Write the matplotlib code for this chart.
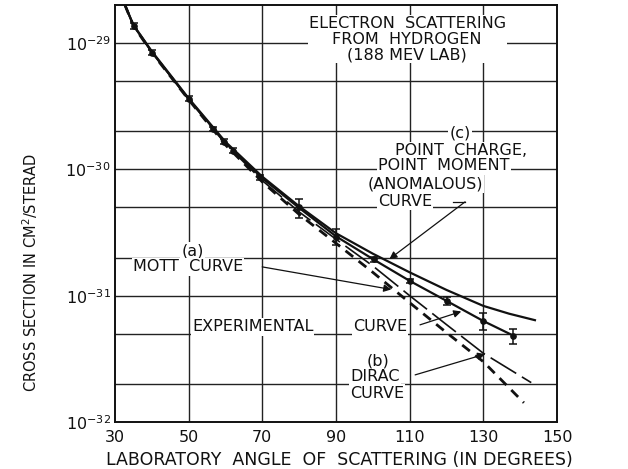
import matplotlib
matplotlib.use("Agg")
import matplotlib.pyplot as plt
import numpy as np

# measured points (lab angle in degrees, cross section in cm^2/sterad)
point_angle = [35.2, 40, 50, 56.6, 59.6, 62, 69.5, 80, 90, 100.3, 110, 120, 129.8, 138]
point_sigma = [1.36e-29, 8.4e-30, 3.63e-30, 2.09e-30, 1.66e-30, 1.41e-30, 8.65e-31,
               5.0e-31, 2.94e-31, 1.94e-31, 1.31e-31, 9.1e-32, 6.3e-32, 4.8e-32]
point_err = [0.05, 0.04, 0.05, 0.04, 0.04, 0.04, 0.05, 0.17, 0.14, 0.04, 0.04, 0.07, 0.15, 0.13]

# curves
exp_angle = [32.7, 35, 40, 50, 60, 70, 80, 90, 100, 110, 120, 130, 138]
exp_sigma = [2.0e-29, 1.38e-29, 8.5e-30, 3.6e-30, 1.62e-30, 8.5e-31, 4.95e-31,
             2.95e-31, 1.95e-31, 1.31e-31, 9.1e-32, 6.3e-32, 4.85e-32]

anom_angle = [32.7, 35, 40, 50, 60, 70, 80, 90, 100, 110, 120, 130, 137, 144]
anom_sigma = [2.0e-29, 1.39e-29, 8.6e-30, 3.65e-30, 1.65e-30, 8.75e-31, 5.1e-31,
              3.12e-31, 2.15e-31, 1.53e-31, 1.11e-31, 8.3e-32, 7.2e-32, 6.4e-32]

mott_angle = [32.7, 35, 40, 50, 60, 70, 80, 90, 100, 110, 120, 130, 141]
mott_sigma = [2.0e-29, 1.37e-29, 8.4e-30, 3.56e-30, 1.56e-30, 7.95e-31, 4.4e-31,
              2.6e-31, 1.53e-31, 8.8e-32, 5.1e-32, 3.0e-32, 1.42e-32]

dirac_angle = [32.7, 35, 40, 50, 60, 70, 80, 90, 100, 110, 120, 130, 143]
dirac_sigma = [2.0e-29, 1.38e-29, 8.45e-30, 3.58e-30, 1.59e-30, 8.15e-31, 4.6e-31,
               2.8e-31, 1.72e-31, 1.0e-31, 5.9e-32, 3.5e-32, 2.05e-32]

x_ticks = [30, 50, 70, 90, 110, 130, 150]
x_grid = [50, 70, 90, 110, 130]
y_ticks = [1e-32, 1e-31, 1e-30, 1e-29]
y_tick_labels = [r"$\mathregular{10^{-32}}$", r"$\mathregular{10^{-31}}$",
                 r"$\mathregular{10^{-30}}$", r"$\mathregular{10^{-29}}$"]
y_grid = [2e-32, 5e-32, 2e-31, 5e-31, 2e-30, 5e-30]

plt.rcParams["font.family"] = ["DejaVu Sans"]
ink = "#111111"

fig = plt.figure(figsize=(6.28, 4.69), dpi=100)
ax = fig.add_axes([0.1831, 0.1002, 0.7039, 0.8891])
ax.set_yscale("log")
ax.set_xlim(30, 150)
ax.set_ylim(1e-32, 2e-29)

for x in x_grid:
    ax.axvline(x, color="#222222", lw=1.0, zorder=1)
for y in y_ticks[1:] + y_grid:
    ax.axhline(y, color="#222222", lw=1.0, zorder=1)

ax.set_xticks(x_ticks)
ax.set_xticklabels([str(t) for t in x_ticks])
ax.set_yticks(y_ticks)
ax.set_yticklabels(y_tick_labels)
ax.yaxis.set_minor_locator(matplotlib.ticker.NullLocator())
ax.tick_params(length=0, labelsize=11.5, colors=ink)
ax.tick_params(axis="x", pad=6)
ax.tick_params(axis="y", pad=3)
for s in ax.spines.values():
    s.set_linewidth(1.4)
    s.set_color(ink)

ax.plot(anom_angle, anom_sigma, color=ink, lw=1.6, zorder=3)
ax.plot(exp_angle, exp_sigma, color=ink, lw=1.6, zorder=3)
ax.plot(dirac_angle, dirac_sigma, color=ink, lw=1.2, dashes=(18, 4), zorder=3)
ax.plot(mott_angle, mott_sigma, color=ink, lw=2.0, dashes=(3.5, 2.5), zorder=3)

pts = np.array(point_sigma)
yerr = pts * np.array(point_err)
ax.errorbar(point_angle, point_sigma, yerr=yerr, fmt="o", ms=3.8, color=ink,
            ecolor=ink, elinewidth=1.1, capsize=3, capthick=1.1, zorder=4)

box = dict(facecolor="white", edgecolor="none", pad=0.8)
fs = 11.5
ax.text(0.661, 0.918, "ELECTRON  SCATTERING\nFROM  HYDROGEN\n(188 MEV LAB)",
        transform=ax.transAxes, ha="center", va="center", fontsize=fs,
        linespacing=1.03, bbox=box, color=ink, zorder=5)

ax.text(0.781, 0.693, "(c)", transform=ax.transAxes, ha="center", va="center",
        fontsize=fs, bbox=box, color=ink, zorder=5)
ax.text(0.633, 0.652, "POINT  CHARGE,", transform=ax.transAxes, ha="left", va="center",
        fontsize=fs, bbox=box, color=ink, zorder=5)
ax.text(0.595, 0.614, "POINT  MOMENT", transform=ax.transAxes, ha="left", va="center",
        fontsize=fs, bbox=box, color=ink, zorder=5)
ax.text(0.572, 0.571, "(ANOMALOUS)", transform=ax.transAxes, ha="left", va="center",
        fontsize=fs, bbox=box, color=ink, zorder=5)
ax.text(0.595, 0.528, "CURVE", transform=ax.transAxes, ha="left", va="center",
        fontsize=fs, bbox=box, color=ink, zorder=5)
ax.plot([0.764, 0.792], [0.528, 0.528], color=ink, lw=0.9, transform=ax.transAxes, zorder=5)

ax.text(0.176, 0.410, "(a)", transform=ax.transAxes, ha="center", va="center",
        fontsize=fs, bbox=box, color=ink, zorder=5)
ax.text(0.041, 0.372, "MOTT  CURVE", transform=ax.transAxes, ha="left", va="center",
        fontsize=fs, bbox=box, color=ink, zorder=5)
ax.text(0.174, 0.228, "EXPERIMENTAL", transform=ax.transAxes, ha="left",
        va="center", fontsize=fs, bbox=box, color=ink, zorder=5)
ax.text(0.538, 0.228, "CURVE", transform=ax.transAxes, ha="left",
        va="center", fontsize=fs, bbox=box, color=ink, zorder=5)
ax.text(0.595, 0.146, "(b)", transform=ax.transAxes, ha="center", va="center",
        fontsize=fs, color=ink, zorder=6)
ax.text(0.532, 0.108, "DIRAC", transform=ax.transAxes, ha="left", va="center",
        fontsize=fs, bbox=box, color=ink, zorder=5)
ax.text(0.532, 0.0695, "CURVE", transform=ax.transAxes, ha="left", va="center",
        fontsize=fs, bbox=box, color=ink, zorder=5)

arrow = dict(arrowstyle="-|>", color=ink, lw=0.9, mutation_scale=11, shrinkA=0, shrinkB=0)
ax.annotate("", xy=(104.5, 1.95e-31), xytext=(0.792, 0.528), xycoords="data",
            textcoords="axes fraction", arrowprops=arrow, zorder=5)
ax.annotate("", xy=(105, 1.12e-31), xytext=(0.333, 0.372), xycoords="data",
            textcoords="axes fraction", arrowprops=arrow, zorder=5)
ax.annotate("", xy=(124, 7.5e-32), xytext=(0.690, 0.233), xycoords="data",
            textcoords="axes fraction", arrowprops=arrow, zorder=5)
ax.annotate("", xy=(130.5, 3.45e-32), xytext=(0.679, 0.113), xycoords="data",
            textcoords="axes fraction", arrowprops=arrow, zorder=5)

fig.text(0.541, 0.019, "LABORATORY  ANGLE  OF  SCATTERING (IN DEGREES)",
         ha="center", va="center", fontsize=12.5, color=ink)
fig.text(0.048, 0.42, "CROSS SECTION IN CM$^2$/STERAD", rotation=90,
         ha="center", va="center", fontsize=10.5, color=ink)

fig.savefig("out.png", dpi=100, facecolor="white")
